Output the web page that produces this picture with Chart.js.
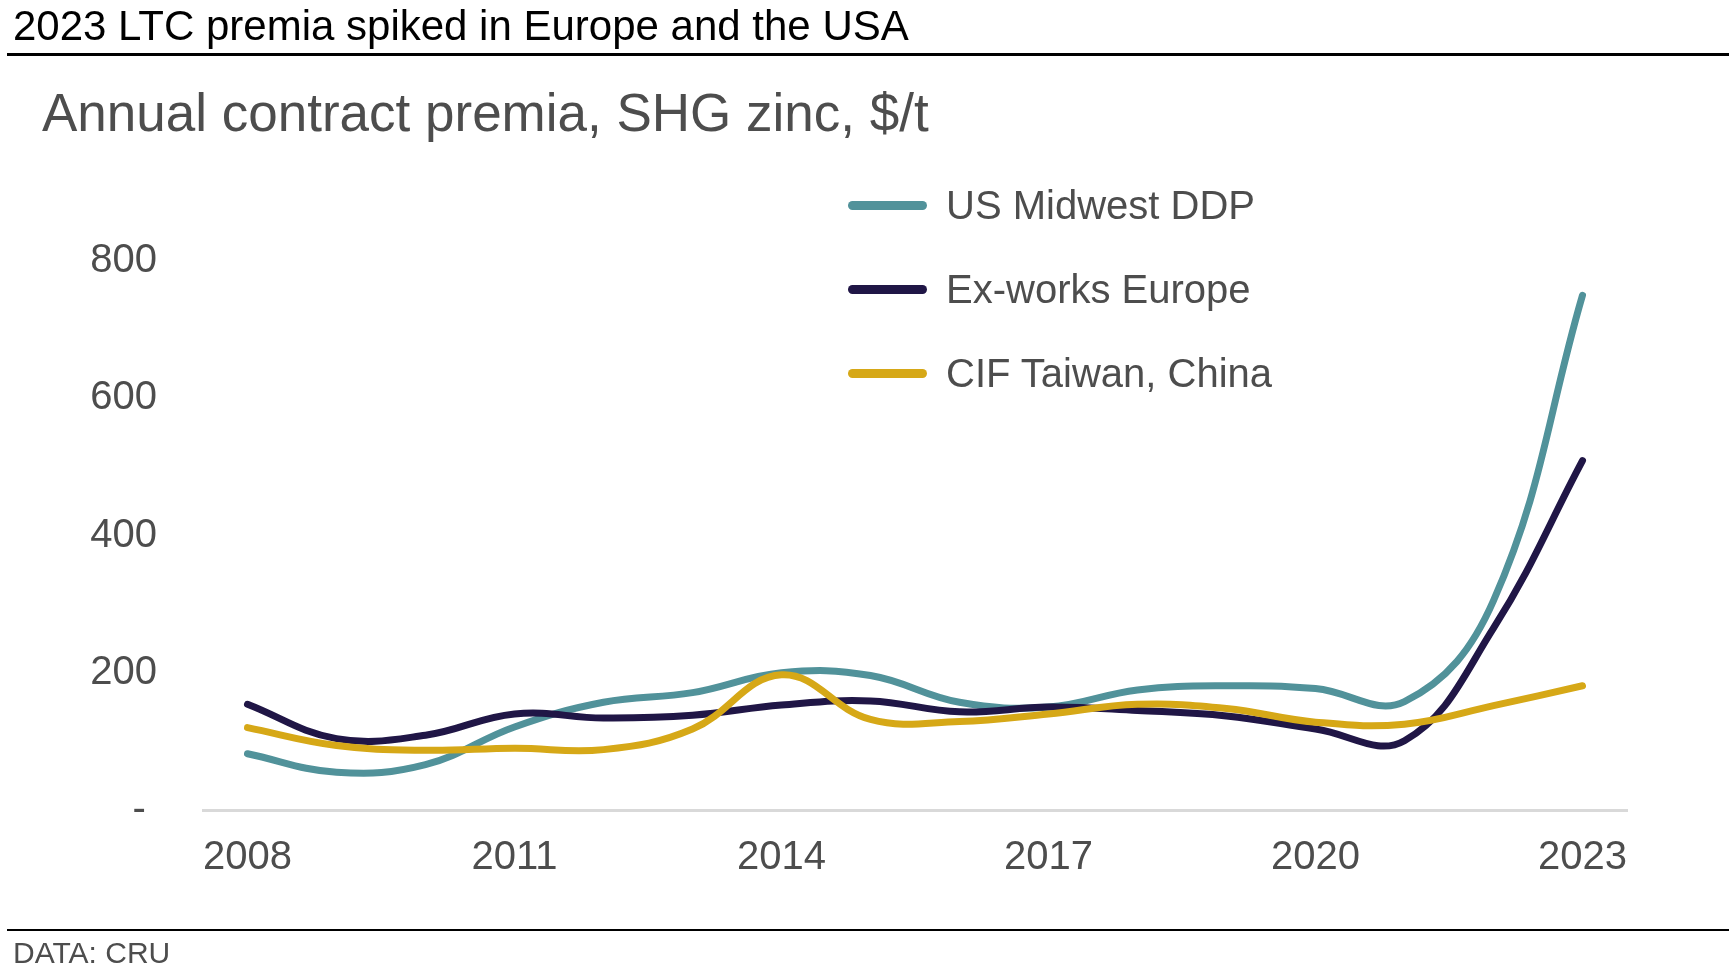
<!DOCTYPE html>
<html>
<head>
<meta charset="utf-8">
<script src="https://cdn.jsdelivr.net/npm/chart.js@4"></script>
<style>
  body { margin: 0; background: #fff; font-family: "Liberation Sans", Arial, sans-serif; }
  #wrap { position: relative; width: 1731px; height: 977px; overflow: hidden; }
  #chart { position: absolute; left: 0; top: 0; }
  .title { position: absolute; left: 13px; top: 5px; font-size: 42px; line-height: 42px; color: #000; white-space: nowrap; }
  .subtitle { position: absolute; left: 42px; top: 86px; font-size: 53px; line-height: 53px; color: #4d4d4d; white-space: nowrap; }
  .rule { position: absolute; left: 7px; width: 1722px; background: #000; }
  .source { position: absolute; left: 13px; top: 938px; font-size: 30px; line-height: 30px; color: #4d4d4d; }
  #legend { position: absolute; left: 848px; top: 180px; }
  .item { position: relative; height: 84px; }
  .swatch { position: absolute; left: 0; top: 21px; width: 79px; height: 9px; border-radius: 5px; }
  .label { position: absolute; left: 98px; top: 5px; font-size: 40px; line-height: 40px; color: #4d4d4d; white-space: nowrap; }
</style>
</head>
<body>
<div id="wrap">
  <canvas id="chart" width="1731" height="977"></canvas>
  <div class="title">2023 LTC premia spiked in Europe and the USA</div>
  <div class="rule" style="top:53px;height:3px"></div>
  <div class="subtitle">Annual contract premia, SHG zinc, $/t</div>
  <div id="legend"></div>
  <div class="rule" style="top:929px;height:2px"></div>
  <div class="source">DATA: CRU</div>
</div>
<script>
// annual contract premia, $/t
const years = ['2008', '2009', '2010', '2011', '2012', '2013', '2014', '2015',
  '2016', '2017', '2018', '2019', '2020', '2021', '2022', '2023'];
const usMidwestDDP = [82, 55, 66, 121, 157, 171, 200, 196, 157, 150, 175, 181, 177, 158, 305, 750];
const exWorksEurope = [154, 104, 109, 140, 134, 138, 153, 159, 143, 150, 145, 137, 118, 101, 265, 509];
const cifTaiwanChina = [120, 94, 87, 90, 88, 118, 197, 132, 129, 140, 154, 148, 128, 125, 152, 181];
const yTicks = [0, 200, 400, 600, 800];

const grey = '#4d4d4d';
const tickFont = { family: '"Liberation Sans", Arial, sans-serif', size: 40 };

const makeLine = (label, data, colour, order) => ({
  label: label,
  data: data,
  borderColor: colour,
  backgroundColor: colour,
  borderWidth: 7,
  borderCapStyle: 'round',
  borderJoinStyle: 'round',
  pointRadius: 0,
  tension: 0.4,
  fill: false,
  order: order
});

const chart = new Chart(document.getElementById('chart'), {
  type: 'line',
  data: {
    labels: years,
    datasets: [
      makeLine('US Midwest DDP', usMidwestDDP, '#51929a', 3),
      makeLine('Ex-works Europe', exWorksEurope, '#201646', 2),
      makeLine('CIF Taiwan, China', cifTaiwanChina, '#d6a817', 1)
    ]
  },
  options: {
    responsive: false,
    animation: false,
    layout: { padding: { left: 0, right: 104, top: 261, bottom: 107 } },
    plugins: { legend: { display: false }, tooltip: { enabled: false } },
    scales: {
      x: {
        offset: true,
        grid: { display: false, drawTicks: false },
        border: { display: true, color: '#d9d9d9', width: 3 },
        ticks: {
          autoSkip: false,
          maxRotation: 0,
          padding: 24,
          color: grey,
          font: tickFont,
          callback: (v, i) => (i % 3 === 0 ? years[i] : '')
        },
        afterFit: (scale) => { scale.height = 60; }
      },
      y: {
        min: yTicks[0],
        max: yTicks[yTicks.length - 1],
        grid: { display: false, drawTicks: false },
        border: { display: false },
        afterBuildTicks: (scale) => { scale.ticks = yTicks.map(v => ({ value: v })); },
        ticks: {
          padding: 46,
          color: grey,
          font: tickFont,
          callback: (v) => (v === 0 ? '- ' : v)
        },
        afterFit: (scale) => { scale.width = 203; }
      }
    }
  }
});

// legend on the page, built from the chart's datasets
const legend = document.getElementById('legend');
chart.data.datasets.forEach(ds => {
  const item = document.createElement('div');
  item.className = 'item';
  const sw = document.createElement('div');
  sw.className = 'swatch';
  sw.style.background = ds.borderColor;
  const lab = document.createElement('div');
  lab.className = 'label';
  lab.textContent = ds.label;
  item.appendChild(sw);
  item.appendChild(lab);
  legend.appendChild(item);
});
</script>
</body>
</html>
